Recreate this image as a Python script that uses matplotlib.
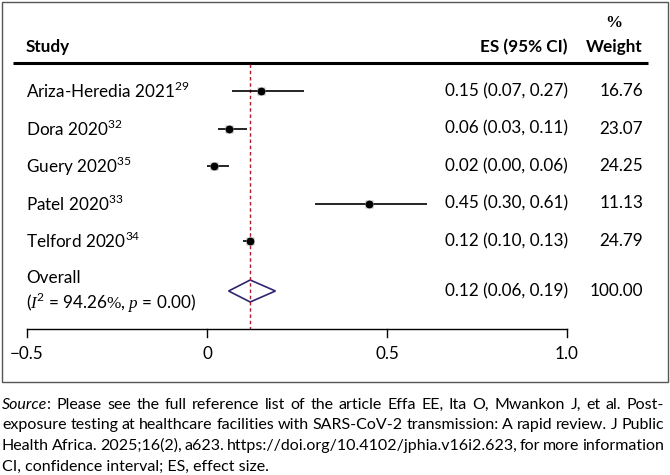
import matplotlib
matplotlib.use("Agg")
import matplotlib.pyplot as plt
from matplotlib.patches import Rectangle, Polygon
from matplotlib.font_manager import FontProperties

plt.rcParams['font.family'] = ['Lato', 'DejaVu Sans']
plt.rcParams['mathtext.fontset'] = 'custom'
plt.rcParams['mathtext.rm'] = 'Lato'
plt.rcParams['mathtext.sf'] = 'Liberation Serif:italic'
plt.rcParams['mathtext.tt'] = 'Liberation Serif'

# data
studies = ["Ariza-Heredia 2021", "Dora 2020", "Guery 2020", "Patel 2020", "Telford 2020"]
refs = ["29", "32", "35", "33", "34"]
es = [0.15, 0.06, 0.02, 0.45, 0.12]
lo = [0.07, 0.03, 0.00, 0.30, 0.10]
hi = [0.27, 0.11, 0.06, 0.61, 0.13]
weights = [16.76, 23.07, 24.25, 11.13, 24.79]
overall_es, overall_lo, overall_hi = 0.12, 0.06, 0.19
overall_weight = 100.00
ticks = [-0.5, 0, 0.5, 1.0]
tick_labels = ["\u22120.5", "0", "0.5", "1.0"]

source_lines = [
    "Source: Please see the full reference list of the article Effa EE, Ita O, Mwankon J, et al. Post-",
    "exposure testing at healthcare facilities with SARS-CoV-2 transmission: A rapid review. J Public",
    "Health Africa. 2025;16(2), a623. https://doi.org/10.4102/jphia.v16i2.623, for more information",
]
note_line = "CI, confidence interval; ES, effect size."

W, H = 670, 475
fig = plt.figure(figsize=(W / 100, H / 100), dpi=100)
ax = fig.add_axes([0, 0, 1, 1])
# 0 sits at 207 px, 1.0 at 567 px; y axis runs in pixels from the top
ax.set_xlim(-207 / 360, (W - 207) / 360)
ax.set_ylim(H, 0)
ax.axis('off')


def px(x):
    return (x - 207) / 360


fs = 12.3
row_y = [91 + 37.5 * i for i in range(len(studies))]
y_over = 291

# frame round the plot
fig.add_artist(Rectangle((1.5 / W, (H - 382) / H), 666.5 / W, 380.5 / H,
                         transform=fig.transFigure, fill=False,
                         edgecolor='#555555', lw=1.0))

# header
ax.text(px(26), 47, "Study", fontsize=fs, fontweight='bold', va='center')
ax.text(px(568), 47, "ES (95% CI)", fontsize=fs, fontweight='bold',
        va='center', ha='right')
ax.text(px(614), 47, "Weight", fontsize=fs, fontweight='bold',
        va='center', ha='center')
ax.text(px(614), 23, "%", fontsize=fs, fontweight='bold', va='center',
        ha='center', family='Liberation Serif')
ax.plot([px(13), px(648)], [63, 63], color='black', lw=2.2,
        solid_capstyle='butt')

# overall line
ax.plot([overall_es, overall_es], [64, 329], color='#b01c2e', lw=1.0,
        ls=(0, (2.5, 2)))

for i, name in enumerate(studies):
    y = row_y[i]
    ax.text(px(26), y, name + "$^{" + refs[i] + "}$", fontsize=fs,
            va='center')
    ax.plot([lo[i], hi[i]], [y, y], color='black', lw=1.2,
            solid_capstyle='butt')
    ax.plot(es[i], y, marker='s', ms=5.5, color='#b8b8b8', mec='none')
    ax.plot(es[i], y, marker='o', ms=4.6, color='black')
    ax.text(px(568), y, f"{es[i]:.2f} ({lo[i]:.2f}, {hi[i]:.2f})",
            fontsize=fs, va='center', ha='right')
    ax.text(px(643), y, f"{weights[i]:.2f}", fontsize=fs, va='center',
            ha='right')

# pooled estimate
ax.add_patch(Polygon([(overall_lo, y_over), (overall_es, y_over - 11),
                      (overall_hi, y_over), (overall_es, y_over + 11)],
                     closed=True, fill=False, edgecolor='#2e2570', lw=1.2))
ax.text(px(26), 278, "Overall", fontsize=fs, va='center')
ax.text(px(26), 303, r"($\mathsf{I}^{2}$ = 94.26$\mathtt{\%}$, $\mathsf{p}$ = 0.00)",
        fontsize=fs, va='center')
ax.text(px(568), y_over, f"{overall_es:.2f} ({overall_lo:.2f}, {overall_hi:.2f})",
        fontsize=fs, va='center', ha='right')
ax.text(px(643), y_over, f"{overall_weight:.2f}", fontsize=fs, va='center',
        ha='right')

# x axis
ax.plot([ticks[0], ticks[-1]], [329, 329], color='black', lw=1.0)
for t, lab in zip(ticks, tick_labels):
    ax.plot([t, t], [329, 337], color='black', lw=1.0)
    ax.text(t, 354, lab, fontsize=fs, va='center', ha='center')

# source note, justified between 2 px and 664 px
sfs = 11.5
src_y = [405, 425, 446]
r = fig.canvas.get_renderer()
prop = FontProperties(family='Lato', size=sfs)
iprop = FontProperties(family='Lato', size=sfs, style='italic')


def width(s, p):
    return r.get_text_width_height_descent(s, p, ismath=False)[0]


for k, (y, line) in enumerate(zip(src_y, source_lines)):
    words = line.split(" ")
    widths = [width(w, prop) for w in words]
    if k == 0:
        widths[0] = width("Source", iprop) + width(":", prop)
    gap = (662 - sum(widths)) / (len(words) - 1)
    x = 2
    for j, w in enumerate(words):
        if k == 0 and j == 0:
            ax.text(px(x), y, "Source", fontproperties=iprop, va='center')
            ax.text(px(x + width("Source", iprop)), y, ":",
                    fontproperties=prop, va='center')
        else:
            ax.text(px(x), y, w, fontproperties=prop, va='center')
        x += widths[j] + gap
ax.text(px(2), 467, note_line, fontproperties=prop, va='center')

fig.savefig("out.png", dpi=100)
